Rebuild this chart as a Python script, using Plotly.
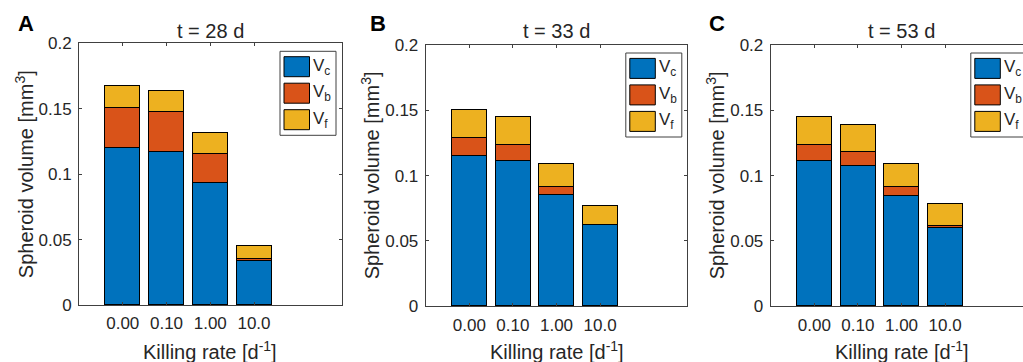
import plotly.graph_objects as go

# ---------------- data ----------------
rates = ["0.00", "0.10", "1.00", "10.0"]
positions = [1, 2, 3, 4]
titles = ["t = 28 d", "t = 33 d", "t = 53 d"]
panel_letters = ["A", "B", "C"]
series_names = ["V<sub>c</sub>", "V<sub>b</sub>", "V<sub>f</sub>"]
y_ticks = [0, 0.05, 0.1, 0.15, 0.2]
y_ticktext = ["0", "0.05", "0.1", "0.15", "0.2"]

vc_28 = [0.1197, 0.1167, 0.0932, 0.0334]
vb_28 = [0.0309, 0.0303, 0.0222, 0.0018]
vf_28 = [0.0163, 0.0161, 0.0158, 0.0096]

vc_33 = [0.1153, 0.1110, 0.0849, 0.0620]
vb_33 = [0.0138, 0.0127, 0.0064, 0.0003]
vf_33 = [0.0214, 0.0209, 0.0179, 0.0147]

vc_53 = [0.1115, 0.1071, 0.0844, 0.0600]
vb_53 = [0.0122, 0.0108, 0.0067, 0.0012]
vf_53 = [0.0212, 0.0206, 0.0176, 0.0169]

panels = [(vc_28, vb_28, vf_28), (vc_33, vb_33, vf_33), (vc_53, vb_53, vf_53)]
colors = ["#0072BD", "#D95319", "#EDB120"]

# ---------------- layout geometry ----------------
W, H = 1023, 362
FONT = "Liberation Sans, Arial, Helvetica, sans-serif"
TXT = "#262626"
AX = "#404040"

# pixel boxes of each axes: (left, right, top, bottom)
boxes = [(79.0, 341.5, 43.3, 305.0), (425.7, 687.3, 45.0, 306.3), (770.7, 1032.3, 45.0, 306.3)]
letter_pos = [(25.8, 23.0), (378.0, 23.5), (717.0, 23.0)]

fig = go.Figure()
annotations = []
shapes = []

for i, (vals, box, title, letter) in enumerate(zip(panels, boxes, titles, panel_letters)):
    sfx = "" if i == 0 else str(i + 1)
    xa, ya = "x" + sfx, "y" + sfx
    left, right, top, bottom = box
    unit = (right - left) / 6.0
    vis_right = min(right, W)
    xmax = (vis_right - left) / unit
    for name, v, c in zip(series_names, vals, colors):
        fig.add_trace(go.Bar(
            x=positions, y=v, width=0.8, name=name, marker_color=c,
            marker_line=dict(color="black", width=1), showlegend=False,
            xaxis=xa, yaxis=ya))
    mirror_y = "ticks" if right <= W else False
    fig.layout["xaxis" + sfx] = dict(
        domain=[left / W, vis_right / W], range=[0, xmax], anchor=ya, automargin=False,
        tickvals=positions, ticktext=rates, ticks="inside", ticklen=3,
        tickcolor=AX, showline=True, linecolor=AX, linewidth=1, mirror="ticks",
        showgrid=False, zeroline=False, ticklabelstandoff=3,
        tickfont=dict(family=FONT, size=17, color=TXT))
    fig.layout["yaxis" + sfx] = dict(
        domain=[(H - bottom) / H, (H - top) / H], range=[0, 0.2], anchor=xa, automargin=False,
        tickvals=y_ticks, ticktext=y_ticktext, ticks="inside", ticklen=3,
        tickcolor=AX, showline=True, linecolor=AX, linewidth=1, mirror=mirror_y,
        showgrid=False, zeroline=False, ticklabelstandoff=3,
        tickfont=dict(family=FONT, size=17, color=TXT))

    # titles / labels
    annotations.append(dict(text=title, xref=xa, x=3, yref="paper", y=(H - 31) / H,
                            xanchor="center", yanchor="middle", showarrow=False,
                            font=dict(family=FONT, size=20, color=TXT)))
    annotations.append(dict(text="Killing rate [d<sup>-1</sup>]", xref=xa, x=3, yref="paper",
                            y=(H - 350) / H, xanchor="center", yanchor="middle", showarrow=False,
                            font=dict(family=FONT, size=20, color=TXT)))
    annotations.append(dict(text="Spheroid volume [mm<sup>3</sup>]", xref="paper",
                            x=(left - 55) / W, yref=ya + " domain", y=0.5, textangle=-90,
                            xanchor="center", yanchor="middle", showarrow=False,
                            font=dict(family=FONT, size=20, color=TXT)))
    lx, ly = letter_pos[i]
    annotations.append(dict(text="<b>" + letter + "</b>", xref="paper", x=lx / W, yref="paper",
                            y=(H - ly) / H, xanchor="center", yanchor="middle", showarrow=False,
                            font=dict(family=FONT, size=22, color="black")))

    # legend (drawn in axes data coordinates)
    scale = (bottom - top) / 0.2

    def dx(px):
        return (px - left) / unit

    def dy(py):
        return (bottom - py) / scale

    bx0, bx1 = right - 61.5, right - 5.5
    by0, by1 = top + 8, top + 92
    shapes.append(dict(type="rect", xref=xa, yref=ya, x0=dx(bx0), x1=dx(bx1), y0=dy(by1), y1=dy(by0),
                       line=dict(color=AX, width=1), fillcolor="white", layer="above"))
    for k, (name, c) in enumerate(zip(series_names, colors)):
        sy0 = top + 13.4 + k * 26.5
        sy1 = sy0 + 20
        sx0, sx1 = bx0 + 4, bx0 + 29.5
        shapes.append(dict(type="rect", xref=xa, yref=ya, x0=dx(sx0), x1=dx(sx1), y0=dy(sy1), y1=dy(sy0),
                           line=dict(color="black", width=1), fillcolor=c, layer="above"))
        annotations.append(dict(text=name, xref=xa, x=dx(sx1 + 1.5), yref=ya,
                                y=dy((sy0 + sy1) / 2), xanchor="left", yanchor="middle",
                                showarrow=False, font=dict(family=FONT, size=17, color=TXT)))

fig.update_layout(
    width=W, height=H, margin=dict(l=0, r=0, t=0, b=0, autoexpand=False),
    barmode="stack", bargap=0, plot_bgcolor="white", paper_bgcolor="white",
    annotations=annotations, shapes=shapes, showlegend=False,
    font=dict(family=FONT, color=TXT))

fig.write_html("out.html")
